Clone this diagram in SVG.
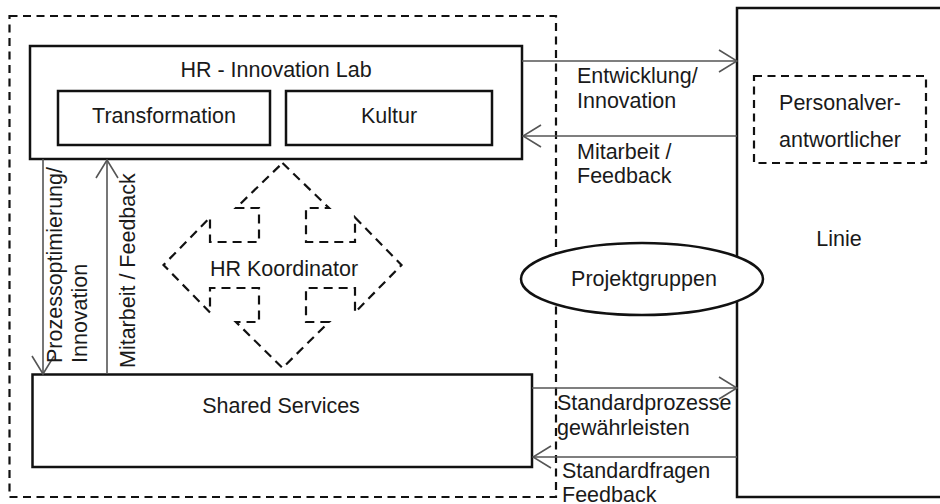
<svg xmlns="http://www.w3.org/2000/svg" width="940" height="504" viewBox="0 0 940 504">
<style>
text{font-family:"Liberation Sans",Arial,sans-serif;font-size:21.5px;fill:#1a1a1a}
.c{text-anchor:middle}
.box{fill:#fff;stroke:#111;stroke-width:2.5}
.dash{fill:none;stroke:#111;stroke-width:2.2;stroke-dasharray:8 5.5}
.kd{fill:none;stroke:#111;stroke-width:2.2;stroke-dasharray:9 6}
.ln{fill:none;stroke:#555;stroke-width:1.6}
</style>
<defs>
<marker id="ah" viewBox="0 0 20 24" refX="19" refY="12" markerWidth="20" markerHeight="24" markerUnits="userSpaceOnUse" orient="auto">
<path d="M1,1 L19,12 L1,23" fill="none" stroke="#555" stroke-width="1.6"/>
</marker>
</defs>
<rect width="940" height="504" fill="#fff"/>
<g id="hr-bereich">
<rect x="9.5" y="16" width="546.5" height="481" class="dash"/>
</g>
<g id="linie">
<rect x="737" y="8" width="230" height="489" class="box"/>
<text x="839" y="246" class="c">Linie</text>
</g>
<g id="personalverantwortlicher">
<rect x="754" y="76" width="172" height="87" fill="#fff" class="dash"/>
<text x="840" y="110" class="c">Personalver-</text>
<text x="840" y="147" class="c">antwortlicher</text>
</g>
<g id="innovation-lab">
<rect x="30" y="46" width="492" height="113" class="box"/>
<text x="276" y="77" class="c">HR - Innovation Lab</text>
</g>
<g id="transformation">
<rect x="58" y="91" width="212" height="54" class="box"/>
<text x="164" y="123" class="c">Transformation</text>
</g>
<g id="kultur">
<rect x="286" y="91" width="206" height="54" class="box"/>
<text x="389" y="123" class="c">Kultur</text>
</g>
<g id="shared-services">
<rect x="32.5" y="374.5" width="499.5" height="92.5" class="box"/>
<text x="281" y="413" class="c">Shared Services</text>
</g>
<g id="hr-koordinator">
<path class="kd" d="M282.5,163 L329,208 L306,208 L306,242 L355,242 L355,217.5 L401.5,265 L355,312.5 L355,288 L306,288 L306,322 L329,322 L282.5,368 L236,322 L259,322 L259,288 L210,288 L210,312.5 L163.5,265 L210,217.5 L210,242 L259,242 L259,208 L236,208 Z"/>
<text x="284" y="276" class="c">HR Koordinator</text>
</g>
<g id="connectors">
<line x1="522" y1="61" x2="737" y2="61" class="ln" marker-end="url(#ah)"/>
<line x1="737" y1="136" x2="523" y2="136" class="ln" marker-end="url(#ah)"/>
<line x1="532" y1="388" x2="737" y2="388" class="ln" marker-end="url(#ah)"/>
<line x1="737" y1="457" x2="533" y2="457" class="ln" marker-end="url(#ah)"/>
<line x1="43" y1="159" x2="43" y2="374" class="ln" marker-end="url(#ah)"/>
<line x1="107" y1="374" x2="107" y2="160" class="ln" marker-end="url(#ah)"/>
<text x="577" y="83">Entwicklung/</text>
<text x="577" y="108">Innovation</text>
<text x="577" y="159">Mitarbeit /</text>
<text x="577" y="183">Feedback</text>
<text x="557" y="410">Standardprozesse</text>
<text x="557" y="435">gewährleisten</text>
<text x="562" y="478">Standardfragen</text>
<text x="562" y="502">Feedback</text>
<text transform="translate(62,363) rotate(-90)">Prozessoptimierung/</text>
<text transform="translate(87,363) rotate(-90)">Innovation</text>
<text transform="translate(135,368) rotate(-90)">Mitarbeit / Feedback</text>
</g>
<g id="projektgruppen">
<ellipse cx="642" cy="279" rx="121" ry="36" class="box"/>
<text x="644" y="286" class="c">Projektgruppen</text>
</g>
</svg>
